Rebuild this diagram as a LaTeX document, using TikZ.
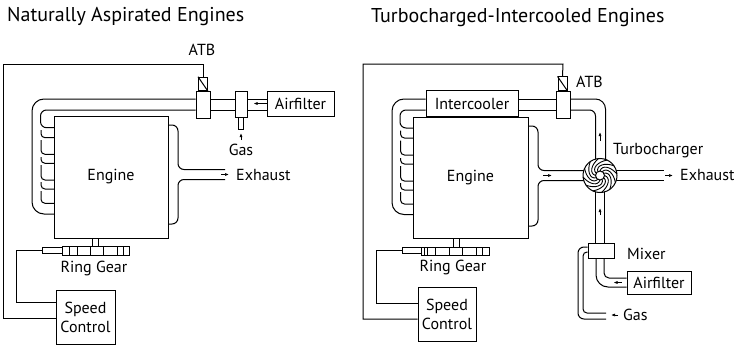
\documentclass[tikz,border=0pt]{standalone}
\usepackage{fontspec}
\setmainfont{PT Sans}
\usetikzlibrary{arrows.meta, calc}
\tikzset{
  box/.style={draw, fill=white, line width=1pt, inner sep=0pt, font=\fontsize{16}{19}\selectfont},
  pipe/.style={line width=1pt},
  wire/.style={line width=1pt},
  flow/.style={->, line width=0.7pt},
  lbl/.style={inner sep=0pt, font=\fontsize{16}{19}\selectfont, align=center},
  headline/.style={inner sep=0pt, anchor=west, font=\fontsize{20}{22}\selectfont},
}
\begin{document}
\begin{tikzpicture}[x=1pt, y=-1pt, >={Latex[length=4pt,width=3pt]}]
\useasboundingbox (0,0) rectangle (734,348);

% Titulos
\node[headline] (titleA) at (7,17) {Naturally Aspirated Engines};
\node[headline] (titleB) at (371,18) {Turbocharged-Intercooled Engines};

% Naturally aspirated: blocos
\node[box, minimum width=114pt, minimum height=122pt] (engineA) at (111,177) {Engine};
\node[box, minimum width=14pt, minimum height=27pt] (throtA) at (203,104.5) {};
\node[box, minimum width=9pt, minimum height=13.5pt] (solA) at (203,84) {};
\node[box, minimum width=12pt, minimum height=26pt] (mixA) at (241,104.5) {};
\node[box, minimum width=5pt, minimum height=12pt] (stubA) at (240.5,123.5) {};
\node[box, minimum width=67pt, minimum height=25pt] (filterA) at (300.5,103.5) {Airfilter};
\node[box, minimum width=59pt, minimum height=53.5pt, align=center] (speedA) at (85.5,317.3) {Speed\\Control};
\node[box, minimum width=5.5pt, minimum height=8pt] (shaftA) at (95.7,242) {};
\node[box, minimum width=67pt, minimum height=9pt] (gearA) at (95.5,250.5) {};
\node[box, minimum width=20pt, minimum height=5.5pt] (sensorA) at (52,250.3) {};
\node[lbl] (atbA) at (202,50) {ATB};
\node[lbl] (gasA) at (241,150) {Gas};
\node[lbl] (ringA) at (94,268) {Ring Gear};
\node[lbl, anchor=west] (exhA) at (236,175) {Exhaust};
\coordinate (outA) at (225,174.5);

% Solenoide e fios
\draw[wire] (solA.north west) -- (solA.south east);
\draw[wire] (solA.north) -- (203,64) -- (3,64) -- (3,318) -- (speedA.west |- 3,318);
\draw[wire] (sensorA.west) -- (16.5,250.3) -- (16.5,302.7) -- (speedA.west |- 3,302.7);

% Dentes
\foreach \x in {69.5,77,90,103,117,123}
  \draw[wire] (\x,246) -- (\x,255);

% Tubos
\draw[pipe, rounded corners=12pt] ([yshift=5.5pt]throtA.west) -- (32,99) -- (32,214) -- (54,214);
\draw[pipe, rounded corners=6pt] ([yshift=-5.5pt]throtA.west) -- (40.5,110) -- (40.5,127.7) -- (54,127.7);
\foreach \ya/\yb in {130/137.7, 140/154.3, 157/163.3, 165/180, 182/189, 191/203.3}
  \draw[pipe, rounded corners=4pt] (41,\ya) -- (41,\yb) -- (54,\yb);
\draw[pipe] ([yshift=5.5pt]throtA.east) -- ([yshift=5.5pt]throtA.east -| mixA.west);
\draw[pipe] ([yshift=-5.5pt]throtA.east) -- ([yshift=-5.5pt]throtA.east -| mixA.west);
\draw[pipe] ([yshift=5.5pt]mixA.east) -- ([yshift=5.5pt]mixA.east -| filterA.west);
\draw[pipe] ([yshift=-5.5pt]mixA.east) -- ([yshift=-5.5pt]mixA.east -| filterA.west);

% Escape
\draw[pipe, rounded corners=6pt] (168,125) -- (178,125) -- (178,169.5) -- ([yshift=5pt]outA);
\draw[pipe, rounded corners=6pt] ([yshift=-5pt]outA) -- (178,179.5) -- (178,224) -- (168,224);

% Setas
\draw[flow] ([xshift=-4pt]outA) -- ([xshift=4pt]outA);
\draw[flow] (filterA.west) -- ++(-13,0);
\draw[flow] ([yshift=4pt]gasA.north) -- ++(0,-7);

% Turbocharged-intercooled: blocos
\node[box, minimum width=115pt, minimum height=121pt] (engineB) at (470.5,177.5) {Engine};
\node[box, minimum width=92pt, minimum height=26pt] (coolerB) at (472,103.7) {Intercooler};
\node[box, minimum width=14pt, minimum height=27pt] (throtB) at (563,104.5) {};
\node[box, minimum width=9pt, minimum height=13.5pt] (solB) at (562.5,83.7) {};
\node[box, minimum width=26pt, minimum height=15pt] (mixB) at (601,250.5) {};
\node[box, minimum width=64pt, minimum height=23pt] (filterB) at (659,282.5) {Airfilter};
\node[box, minimum width=58pt, minimum height=54pt, align=center] (speedB) at (447,314) {Speed\\Control};
\node[box, minimum width=6pt, minimum height=9pt] (shaftB) at (456,242.5) {};
\node[box, minimum width=68pt, minimum height=8pt] (gearB) at (455,251) {};
\node[box, minimum width=19pt, minimum height=5.5pt] (sensorB) at (411.5,250.5) {};
\node[lbl, anchor=west] (atbB) at (576,82) {ATB};
\node[lbl, anchor=west] (turboLbl) at (613,151) {Turbocharger};
\node[lbl, anchor=west] (exhB) at (680,175) {Exhaust};
\node[lbl, anchor=west] (mixLbl) at (627,254) {Mixer};
\node[lbl, anchor=west] (gasB) at (623,315) {Gas};
\node[lbl] (ringB) at (453,267) {Ring Gear};
\coordinate (hubB) at (600,175.5);

% Solenoide e fios
\draw[wire] (solB.north west) -- (solB.south east);
\draw[wire] (solB.north) -- (563,64) -- (363,64) -- (363,319) -- (speedB.west |- 363,319);
\draw[wire] (sensorB.west) -- (376,250.5) -- (376,303) -- (speedB.west |- 376,303);

% Dentes
\foreach \x in {424,427.5,435.5,449,462,476,482.5}
  \draw[wire] (\x,247) -- (\x,255);

% Tubos
\draw[pipe, rounded corners=12pt] (coolerB.west |- 392,99) -- (392,99) -- (392,214.5) -- (413,214.5);
\draw[pipe, rounded corners=6pt] (coolerB.west |- 400,110) -- (400,110) -- (400,128) -- (413,128);
\foreach \ya/\yb in {130.5/138, 140.5/155, 158/164, 166/181, 183/190, 192/204}
  \draw[pipe, rounded corners=4pt] (400.5,\ya) -- (400.5,\yb) -- (413,\yb);
\draw[pipe] ([yshift=5.5pt]throtB.west) -- ([yshift=5.5pt]throtB.west -| coolerB.east);
\draw[pipe] ([yshift=-5.5pt]throtB.west) -- ([yshift=-5.5pt]throtB.west -| coolerB.east);
\draw[pipe, rounded corners=10pt] ([yshift=5.5pt]throtB.east) -- (605.5,99) -- (605.5,165);
\draw[pipe, rounded corners=6pt] ([yshift=-5.5pt]throtB.east) -- (595.5,110) -- (595.5,165);

% Escape
\draw[pipe, rounded corners=6pt] (528,126) -- (538,126) -- (538,170.5) -- (590,170.5);
\draw[pipe, rounded corners=6pt] (590,180.5) -- (538,180.5) -- (538,226) -- (528,226);
\draw[pipe] (610,170.5) -- (664,170.5);
\draw[pipe] (610,180.5) -- (664,180.5);

% Misturador
\draw[pipe] (595.5,185) -- (595.5,243);
\draw[pipe] (604.5,185) -- (604.5,243);
\draw[pipe, rounded corners=5pt] (604,258) -- (604,278) -- (filterB.west |- 604,278);
\draw[pipe, rounded corners=12pt] (596,258) -- (596,287) -- (filterB.west |- 596,287);
\draw[pipe, rounded corners=6pt] (mixB.west |- 578,247) -- (578,247) -- (578,319) -- (606,319);
\draw[pipe, rounded corners=4pt] (mixB.west |- 583,252) -- (583,252) -- (583,313) -- (606,313);

% Turbina
\node[box, circle, minimum size=34pt] (turbo) at (hubB) {};
\foreach \a in {0,30,...,330}
  \draw[pipe, line width=0.9pt] ($(hubB)+(\a:4.5)$) .. controls ($(hubB)+(\a+10:11)$) and ($(hubB)+(\a+50:14)$) .. ($(hubB)+(\a+85:17)$);
\node[box, circle, minimum size=9pt] (hub) at (hubB) {};

% Setas
\draw[flow] (543,175.5) -- (552,175.5);
\draw[flow] (665,175.5) -- (673,175.5);
\draw[flow] (600,141) -- (600,132);
\draw[flow] (600,215) -- (600,208);
\draw[flow] (filterB.west) ++(-5,0) -- ++(-8,0);
\draw[flow] (gasB.west) ++(-5,0) -- ++(-7,0);
\end{tikzpicture}
\end{document}
